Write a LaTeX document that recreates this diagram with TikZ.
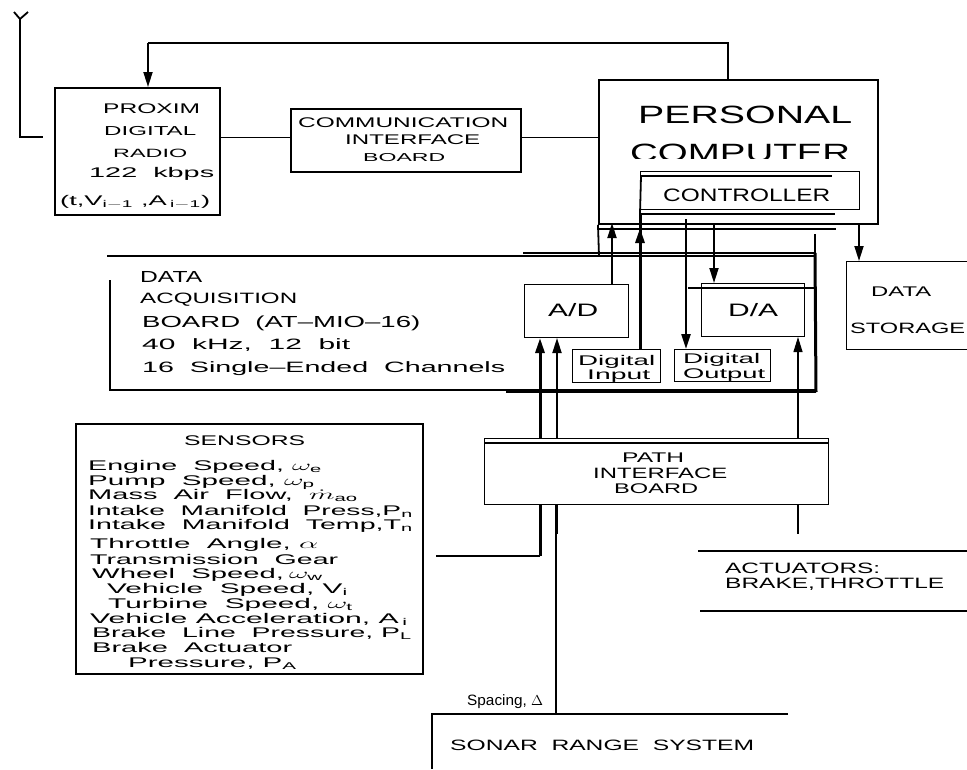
\documentclass[tikz,border=0pt]{standalone}
\usepackage{fontspec}
\usepackage{graphicx}
\setmainfont{Liberation Sans}
\usetikzlibrary{arrows.meta}
\tikzset{
  boxn/.style={draw,line width=1.8pt,inner sep=0pt,anchor=north west},
  txt/.style={inner sep=0pt,anchor=base west},
  ln/.style={line width=1.8pt},
  thn/.style={line width=1.1pt},
  hvy/.style={line width=3pt},
  arr/.style={-{Triangle[width=9pt,length=15pt]}},
}
% name, x, baseline y, width, font size, text
\newcommand{\lab}[6]{\node[txt] (#1) at (#2,#3) {\resizebox{#4pt}{\height}{\fontsize{#5pt}{#5pt}\selectfont #6}};}
\begin{document}
\begin{tikzpicture}[x=1pt,y=-1pt]
\useasboundingbox (0,0) rectangle (967,769);
% boxes
\node[boxn,minimum width=165pt,minimum height=127pt] (radio) at (54,87) {};
\node[boxn,minimum width=230pt,minimum height=63pt] (comm) at (290,108) {};
\node[boxn,minimum width=279pt,minimum height=144pt] (pc) at (598,79) {};
\node[boxn,line width=1pt,minimum width=219pt,minimum height=38pt] (ctrl) at (640,171) {};
\node[boxn,line width=1pt,minimum width=104pt,minimum height=53pt] (ad) at (524,284) {};
\node[boxn,line width=1pt,minimum width=103pt,minimum height=53pt] (da) at (701,283) {};
\node[boxn,line width=1pt,minimum width=88pt,minimum height=33pt] (dinp) at (572,349) {};
\node[boxn,line width=1pt,minimum width=96pt,minimum height=32pt] (dout) at (674,349) {};
\node[boxn,line width=1pt,minimum width=125pt,minimum height=88pt] (store) at (846,261) {};
\node[boxn,line width=1pt,minimum width=344pt,minimum height=66pt] (path) at (484,438) {};
\node[boxn,minimum width=347pt,minimum height=250pt] (sens) at (75,423) {};
% antenna
\coordinate (anta) at (14,12); \coordinate (antb) at (28,12); \coordinate (antc) at (20,19);
\coordinate (antd) at (20,137); \coordinate (ante) at (43,137);
\draw[ln] (anta) -- (antc) -- (antb);
\draw[ln] (antc) -- (antd) -- (ante);
% top feedback
\coordinate (topl) at (148,43); \coordinate (topr) at (728,43);
\draw[ln] (pc.north -| topr) -- (topr) -- (topl);
\draw[ln,arr] (topl) -- (topl |- radio.north);
\coordinate (m1) at (0,137.5);
\draw[ln] (radio.east |- m1) -- (comm.west |- m1);
\draw[thn] (comm.east |- m1) -- (pc.west |- m1);
% controller double lines
\coordinate (c1a) at (641,176); \coordinate (c1b) at (832,176);
\coordinate (c2a) at (640,214); \coordinate (c2b) at (835,214);
\draw[ln] (c1a) -- (c1b);
\draw[ln] (c2a) -- (c2b);
\draw[ln] (c1a) -- (c2a);
\coordinate (b1a) at (597,229); \coordinate (b1b) at (836,229);
\draw[ln] (b1a) -- (b1b);
% data acquisition board
\coordinate (q1) at (107,256); \coordinate (q2) at (816,256); \coordinate (q3) at (816,392);
\coordinate (q4) at (506,392); \coordinate (q5) at (110,280); \coordinate (q6) at (110,390);
\coordinate (q7) at (815,390); \coordinate (q8) at (523,253); \coordinate (q9) at (815,253);
\coordinate (q10) at (815,234); \coordinate (q11) at (599,256);
\coordinate (q12) at (688,288);
\draw[ln] (q1) -- (q2);
\draw[thn] (q8) -- (q9);
\draw[ln] (q10) -- (q9);
\draw[hvy] (q9) -- (q3);
\draw[ln] (q3) -- (q4);
\draw[thn] (q5) -- (q6) -- (q7);
\draw[ln] (pc.south west) -- (q11);
\draw[ln] (q12) -- (q12 -| q2);
% arrows to pc / controller
\coordinate (a1) at (612,223);
\draw[ln,arr] (ad.north -| a1) -- (a1);
\coordinate (a2) at (640,214);
\draw[hvy] (dinp.north -| a2) -- (a2);
\coordinate (a2t) at (640,228);
\coordinate (a2m) at (640,260);
\draw[hvy,arr] (a2m) -- (a2t);
\coordinate (a3) at (686,219);
\draw[arr,line width=2.2pt] (a3) -- (a3 |- dout.north);
\coordinate (a4) at (714,223);
\draw[ln,arr] (a4) -- (a4 |- da.north);
\coordinate (a5) at (859,223);
\draw[ln,arr] (a5) -- (a5 |- store.north);
% path board connections
\coordinate (p1) at (540,0); \coordinate (p2) at (557,0); \coordinate (p3) at (798,0);
\draw[hvy,arr] (path.north -| p1) -- (ad.south -| p1);
\draw[ln,arr] (path.north -| p2) -- (ad.south -| p2);
\draw[thn,arr] (path.north -| p3) -- (da.south -| p3);
\coordinate (pt1) at (484,443); \coordinate (pt2) at (828,443);
\draw[ln] (pt1) -- (pt2);
\coordinate (s1) at (540,556); \coordinate (s2) at (436,556);
\draw[hvy] (path.south -| p1) -- (s1);
\draw[ln] (s1) -- (s2);
\coordinate (s3) at (556,714); \coordinate (s5) at (556,534);
\draw[hvy] (path.south -| s3) -- (s5);
\draw[ln] (s5) -- (s3);
\coordinate (s4) at (798,534);
\draw[thn] (path.south -| s4) -- (s4);
% actuators and sonar
\coordinate (x1) at (698,551); \coordinate (x2) at (967,551);
\coordinate (x3) at (700,611); \coordinate (x4) at (967,611);
\draw[ln] (x1) -- (x2);
\draw[ln] (x3) -- (x4);
\coordinate (r1) at (432,714); \coordinate (r2) at (788,714); \coordinate (r3) at (432,769);
\draw[ln] (r2) -- (r1) -- (r3);
% texts
\lab{t1}{103}{113}{97}{14}{PROXIM}
\lab{t2}{104}{135}{92}{13}{DIGITAL}
\lab{t3}{113}{157}{74}{12}{RADIO}
\lab{t4}{89}{177}{125}{14}{122~~kbps}
\node[txt] (t5) at (60,205) {\resizebox{150pt}{\height}{\fontsize{14pt}{14pt}\selectfont (t,V$_{\mathrm{i-1}}$ ,A$_{\mathrm{\,i-1}}$)}};
\lab{t6}{298}{127}{210}{14}{COMMUNICATION}
\lab{t7}{345}{144}{135}{14}{INTERFACE}
\lab{t8}{363}{161}{82}{11.5}{BOARD}
\lab{t9}{638}{123}{214}{25}{PERSONAL}
\begin{scope}
\clip (620,130) rectangle (860,158);
\lab{t10}{630}{161}{220}{25}{COMPUTER}
\end{scope}
\lab{t11}{663}{201}{167}{18}{CONTROLLER}
\lab{t12}{548}{316}{50}{18}{A/D}
\lab{t13}{728}{316}{50}{18}{D/A}
\lab{t14}{871}{296}{60}{14}{DATA}
\lab{t15}{850}{333}{115}{15}{STORAGE}
\lab{t16}{578}{365}{77}{14}{Digital}
\lab{t17}{587}{379}{63}{14}{Input}
\lab{t18}{683}{363}{77}{14}{Digital}
\lab{t19}{683}{378}{82}{14}{Output}
\lab{t20}{140}{282}{62}{16}{DATA}
\lab{t21}{140}{303}{157}{15}{ACQUISITION}
\lab{t22}{142}{327}{278}{16}{BOARD~~(AT--MIO--16)}
\lab{t23}{142}{349}{208}{15}{40~~kHz,~~12~~bit}
\lab{t24}{142}{372}{363}{15}{16~~Single--Ended~~Channels}
\lab{t25}{184}{445}{121}{14}{SENSORS}
\lab{t26}{88}{470}{234}{14}{Engine~~Speed, $\omega_{\mathrm{e}}$}
\lab{t27}{88}{485}{227}{14}{Pump~~Speed, $\smash{\omega_{\mathrm{p}}}$}
\lab{t28}{88}{499}{270}{14}{Mass~~Air~~Flow,~~$\smash{\dot{m}_{\mathrm{ao}}}$}
\lab{t29}{88}{515}{325}{14}{Intake~~Manifold~~Press,P$_{\mathrm{n}}$}
\lab{t30}{88}{529}{325}{14}{Intake~~Manifold~~Temp,T$_{\mathrm{n}}$}
\lab{t31}{90}{548}{228}{14}{Throttle~~Angle, $\alpha$}
\lab{t32}{90}{564}{248}{14}{Transmission~~Gear}
\lab{t33}{92}{578}{231}{14}{Wheel~~Speed,$\,\omega_{\mathrm{w}}$}
\lab{t34}{107}{593}{241}{14}{Vehicle~~Speed,~V$_{\mathrm{i}}$}
\lab{t35}{108}{608}{245}{14}{Turbine~~Speed,~$\omega_{\mathrm{t}}$}
\lab{t36}{90}{623}{318}{14}{Vehicle~Acceleration,~A$_{\mathrm{\,i}}$}
\lab{t37}{92}{637}{320}{14}{Brake~~Line~~Pressure,~P$_{\mathrm{L}}$}
\lab{t38}{92}{652}{200}{14}{Brake~~Actuator}
\lab{t39}{128}{667}{169}{14}{Pressure,~P$_{\mathrm{A}}$}
\lab{t40}{622}{462}{62}{14}{PATH}
\lab{t41}{593}{478}{134}{15}{INTERFACE}
\lab{t42}{614}{493}{84}{14}{BOARD}
\lab{t43}{467}{705}{76}{15}{Spacing, $\Delta$}
\lab{t44}{450}{750}{304}{15}{SONAR~~RANGE~~SYSTEM}
\lab{t45}{725}{573}{155}{15}{ACTUATORS:}
\lab{t46}{725}{588}{219}{15}{BRAKE,THROTTLE}
\end{tikzpicture}
\end{document}
